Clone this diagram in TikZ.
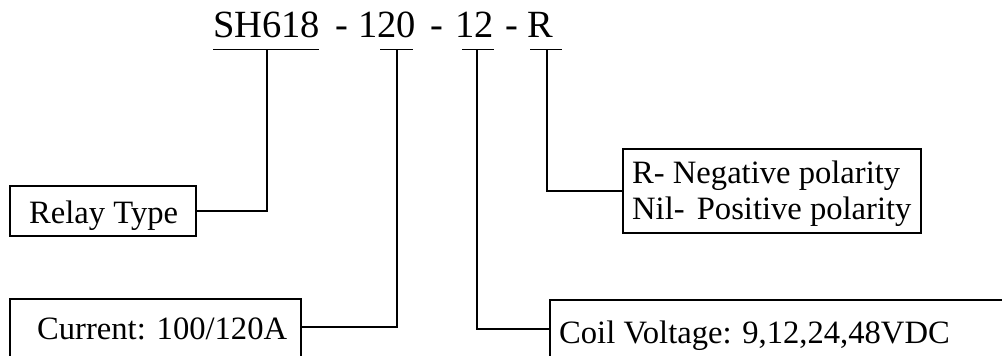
\documentclass[tikz,border=0pt]{standalone}
\usepackage{fontspec}
\setmainfont{Liberation Serif}
\begin{document}
\begin{tikzpicture}[x=1pt,y=-1pt,
  box/.style={draw, line width=1.8pt, anchor=north west, inner sep=0pt, minimum width=#1},
  ttl/.style={anchor=base west, inner sep=0pt, font=\fontsize{38.5}{45}\selectfont},
  lbl/.style={anchor=base west, inner sep=0pt, font=\fontsize{32.6}{38}\selectfont}]
\clip (0,0) rectangle (1002,356);
\fill[white] (0,0) rectangle (1002,356);
% title parts
\node[ttl] (t1) at (213,37) {SH618};
\node[ttl] (d1) at (335,37) {-};
\node[ttl] (t2) at (358,37) {120};
\node[ttl] (d2) at (430,37) {-};
\node[ttl] (t3) at (455,37) {12};
\node[ttl] (d3) at (505,37) {-};
\node[ttl] (t4) at (527,37) {R};
% underlines
\coordinate (u1a) at (213,49.5); \coordinate (u1b) at (319,49.5); \coordinate (s1) at (267,49.5);
\coordinate (u2a) at (380,49.5); \coordinate (u2b) at (413,49.5); \coordinate (s2) at (397,49.5);
\coordinate (u3a) at (462,49.5); \coordinate (u3b) at (494,49.5); \coordinate (s3) at (477,49.5);
\coordinate (u4a) at (530,49.5); \coordinate (u4b) at (562,49.5); \coordinate (s4) at (547,49.5);
\draw[line width=1.8pt] (u1a) -- (u1b);
\draw[line width=1.8pt] (u2a) -- (u2b);
\draw[line width=1.8pt] (u3a) -- (u3b);
\draw[line width=1.8pt] (u4a) -- (u4b);
% boxes
\node[box=186pt, minimum height=50pt] (relay) at (9,185) {};
\node[lbl] (relayT) at (29,223) {Relay Type};
\node[box=298pt, minimum height=84pt] (pol) at (622,148) {};
\node[lbl] (polA) at (632,183) {R- Negative polarity};
\node[lbl] (polB) at (632,219) {Nil-\ \hspace{4pt}Positive polarity};
\node[box=291pt, minimum height=200pt] (cur) at (9,298) {};
\node[lbl] (curT) at (37,339) {Current: 100/120A};
\node[box=600pt, minimum height=200pt] (coil) at (549,299) {};
\node[lbl] (coilT) at (559,343) {Coil Voltage: 9,12,24,48VDC};
\coordinate (cA) at ([yshift=-29pt]cur.north east);
\coordinate (cB) at ([yshift=-30pt]coil.north west);
% connectors
\draw[line width=1.8pt] (s1) |- (relay.east);
\draw[line width=1.8pt] (s2) |- (cA);
\draw[line width=1.8pt] (s3) |- (cB);
\draw[line width=1.8pt] (s4) |- (pol.west);
\end{tikzpicture}
\end{document}
